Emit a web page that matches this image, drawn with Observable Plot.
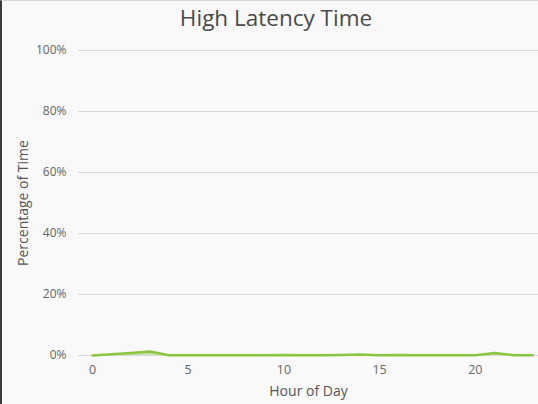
<!DOCTYPE html>
<html>
<head>
<meta charset="utf-8">
<script src="https://cdn.jsdelivr.net/npm/d3@7"></script>
<script src="https://cdn.jsdelivr.net/npm/@observablehq/plot@0.6"></script>
<style>
  html, body { margin: 0; padding: 0; background: #f9f9f9; }
  #wrap { position: relative; width: 538px; height: 404px; box-sizing: border-box;
          border-left: 2px solid #3c3c3c; border-top: 1px solid #d6d6d6; background: #f9f9f9;
          font-family: "Open Sans", "Noto Sans", sans-serif; overflow: hidden; }
  #title { height: 35px; line-height: 34px; text-align: center; font-size: 22.5px; color: #4a4a4a;
           padding-left: 12px; }
  #chart { margin-left: -2px; }
</style>
</head>
<body>
<div id="wrap">
  <div id="title">High Latency Time</div>
  <div id="chart"></div>
</div>
<script>
const hours = [0,1,2,3,4,5,6,7,8,9,10,11,12,13,14,15,16,17,18,19,20,21,22,23];
const pctValues = [0,0.4,0.8,1.3,0.1,0.05,0.05,0.1,0.1,0.05,0.2,0.05,0.1,0.2,0.3,0.1,0.2,0.05,0.05,0.05,0.1,0.8,0.1,0.05];
const yTicks = [0,20,40,60,80,100];
const xTicks = [0,5,10,15,20];

const data = hours.map((h, i) => ({hour: h, pct: pctValues[i]}));

const chart = Plot.plot({
  width: 538,
  height: 368,
  marginLeft: 78,
  marginRight: 0,
  marginTop: 14,
  marginBottom: 49,
  style: {background: "transparent", fontFamily: "'Open Sans', 'Noto Sans', sans-serif", fontSize: "12px", color: "#666"},
  x: {domain: [-0.73, 23.3], ticks: xTicks, label: null},
  y: {domain: [0, 100], ticks: yTicks, label: null},
  marks: [
    Plot.gridY(yTicks, {stroke: "#d9d9d9", strokeOpacity: 1, strokeWidth: 1}),
    Plot.areaY(data, {x: "hour", y: "pct", fill: "#b9dc8e", fillOpacity: 0.8}),
    Plot.lineY(data, {x: "hour", y: "pct", stroke: "#8cc53f", strokeWidth: 2.5}),
    Plot.axisY(yTicks, {tickSize: 0, tickPadding: 12, tickFormat: d => d + "%", fill: "#666", fontSize: 12,
      label: "Percentage of Time", labelAnchor: "center", labelArrow: "none", labelOffset: 60}),
    Plot.axisX(xTicks, {tickSize: 0, tickPadding: 10, fill: "#666", fontSize: 12.5,
      label: "Hour of Day", labelAnchor: "center", labelArrow: "none", labelOffset: 40})
  ]
});
document.getElementById("chart").appendChild(chart);

chart.querySelectorAll("[aria-label='y-axis label'] text, [aria-label='x-axis label'] text").forEach(t => {
  t.setAttribute("font-size", "14");
  t.setAttribute("fill", "#555");
});
</script>
</body>
</html>
